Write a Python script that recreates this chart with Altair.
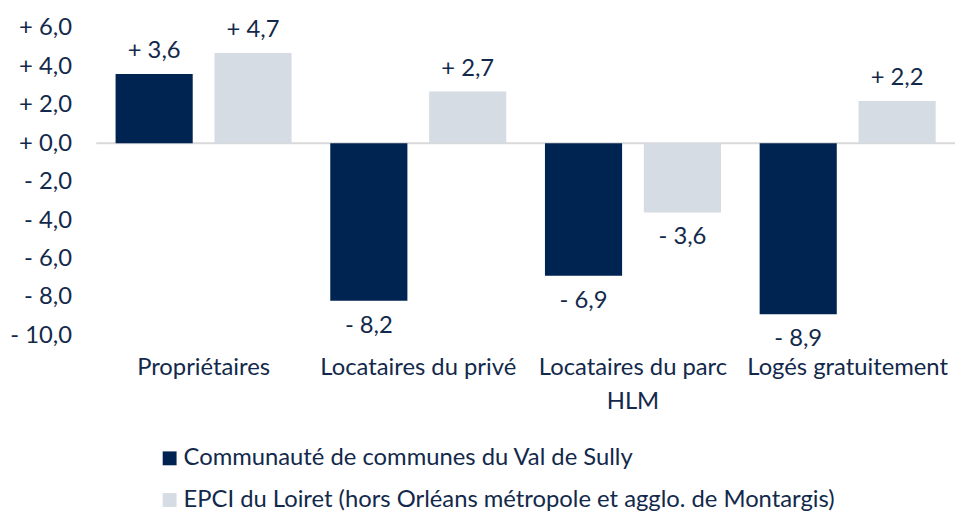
import altair as alt
import pandas as pd

categories = ["Propriétaires", "Locataires du privé", "Locataires du parc HLM", "Logés gratuitement"]
series = ["Communauté de communes du Val de Sully",
          "EPCI du Loiret (hors Orléans métropole et agglo. de Montargis)"]
values_cc = [3.6, -8.2, -6.9, -8.9]
values_epci = [4.7, 2.7, -3.6, 2.2]
colors = ["#002451", "#D6DCE4"]
y_ticks = [-10, -8, -6, -4, -2, 0, 2, 4, 6]

rows = []
for c, v in zip(categories, values_cc):
    rows.append({"cat": c, "serie": series[0], "val": v})
for c, v in zip(categories, values_epci):
    rows.append({"cat": c, "serie": series[1], "val": v})
df = pd.DataFrame(rows)

FONT = "Lato"
TXT = "#13294B"
FS = 24

x = alt.X("cat:N", sort=categories, title=None,
          scale=alt.Scale(paddingInner=0.18, paddingOuter=0.09),
          axis=alt.Axis(domain=False, ticks=False, grid=False, labelAngle=0, labelFontSize=FS,
                        labelFont=FONT, labelColor=TXT, labelPadding=20,
                        labelLineHeight=35, labelBaseline="top", labelLimit=400,
                        labelExpr="datum.label == 'Locataires du parc HLM' ? ['Locataires du parc', 'HLM'] : datum.label"))
xo = alt.XOffset("serie:N", sort=series, scale=alt.Scale(paddingInner=0.22, paddingOuter=0))
yscale = alt.Scale(domain=[-10, 6], nice=False, zero=False)
yaxis = alt.Axis(values=y_ticks, domain=False, ticks=False, grid=False, labelOverlap=False,
                 labelFontSize=FS, labelFont=FONT, labelColor=TXT, labelPadding=25,
                 labelExpr="(datum.value >= 0 ? '+ ' : '- ') + replace(format(abs(datum.value), '.1f'), '.', ',')")
y = alt.Y("val:Q", title=None, scale=yscale, axis=yaxis)

color = alt.Color("serie:N", sort=series, title=None,
                  scale=alt.Scale(domain=series, range=colors),
                  legend=alt.Legend(orient="none", legendX=62, legendY=422, direction="vertical",
                                    symbolType="square", symbolSize=196, symbolStrokeWidth=0,
                                    labelFontSize=FS, labelFont=FONT, labelColor=TXT,
                                    labelOffset=2, rowPadding=18, padding=0, labelLimit=900))

base = alt.Chart(df)

bars = base.mark_bar().encode(x=x, xOffset=xo, y=y, color=color)

zero = alt.Chart(pd.DataFrame({"z": [0]})).mark_rule(color="#D9D9D9", strokeWidth=2).encode(
    y=alt.Y("z:Q", title=None, scale=yscale, axis=yaxis))

lab_expr = "(datum.val >= 0 ? '+ ' : '- ') + replace(format(abs(datum.val), '.1f'), '.', ',')"

pos = base.transform_filter("datum.val >= 0").transform_calculate(lab=lab_expr).mark_text(
    baseline="alphabetic", dy=-16, fontSize=FS, font=FONT, color=TXT
).encode(x=x, xOffset=xo, y=y, text="lab:N")

neg = base.transform_filter("datum.val < 0").transform_calculate(lab=lab_expr).mark_text(
    baseline="top", dy=13, fontSize=FS, font=FONT, color=TXT
).encode(x=x, xOffset=xo, y=y, text="lab:N")

chart = alt.layer(zero, bars, pos, neg).properties(
    width=866, height=310,
    autosize=alt.AutoSizeParams(type="none"),
    padding={"left": 89, "top": 18, "right": 0, "bottom": 180},
).configure(background="white").configure_view(stroke=None)

chart.save("out.html", embed_options={"renderer": "svg", "actions": False})
